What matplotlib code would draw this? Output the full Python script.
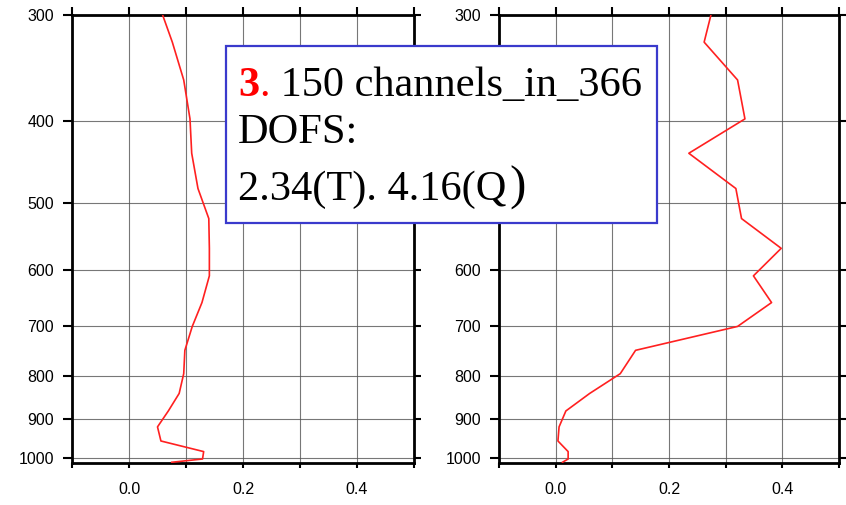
import matplotlib
matplotlib.use("Agg")
import matplotlib.pyplot as plt
from matplotlib.patches import Rectangle
from matplotlib.ticker import FixedLocator, NullFormatter, NullLocator

# ---- data ----
pressure = [300, 323, 358, 398, 437, 481, 522, 566, 610, 656, 700, 747, 796,
            840, 881, 920, 956, 984, 1004, 1013]
t_values = [0.059, 0.076, 0.096, 0.107, 0.110, 0.121, 0.140, 0.141, 0.141, 0.128,
            0.111, 0.098, 0.096, 0.088, 0.069, 0.050, 0.056, 0.131, 0.129, 0.075]
q_values = [0.274, 0.262, 0.321, 0.334, 0.235, 0.318, 0.328, 0.398, 0.349, 0.381,
            0.321, 0.141, 0.114, 0.060, 0.018, 0.006, 0.004, 0.022, 0.022, 0.012]
y_ticks = [300, 400, 500, 600, 700, 800, 900, 1000]
x_ticks = [-0.1, 0.0, 0.1, 0.2, 0.3, 0.4, 0.5]
x_labels = {0.0: "0.0", 0.2: "0.2", 0.4: "0.4"}
title_num = "3"
title_rest = " 150 channels_in_366"
line2 = "DOFS:"
line3 = "2.34(T). 4.16(Q"
line3_end = ")"

W, H = 846, 505
fig = plt.figure(figsize=(W / 100, H / 100), dpi=100)
PX = 72 / 100  # points per pixel

def make_ax(left_px, width_px, values):
    bottom_px = 463
    top_px = 15
    ax = fig.add_axes([left_px / W, (H - bottom_px) / H, width_px / W, (bottom_px - top_px) / H])
    ax.plot(values, pressure, color="#ff2020", lw=1.2, zorder=3)
    ax.set_yscale("log")
    ax.set_ylim(1015, 300)
    ax.set_xlim(-0.1, 0.5)
    ax.yaxis.set_major_locator(FixedLocator(y_ticks))
    ax.yaxis.set_minor_locator(NullLocator())
    ax.set_yticklabels([str(v) for v in y_ticks])
    ax.yaxis.set_minor_formatter(NullFormatter())
    ax.xaxis.set_major_locator(FixedLocator(x_ticks))
    ax.set_xticklabels([x_labels.get(round(v, 1), "") for v in x_ticks])
    ax.grid(True, color="#555555", lw=0.8, alpha=0.8)
    for s in ax.spines.values():
        s.set_linewidth(2.0)
        s.set_color("black")
    ax.tick_params(axis="y", which="major", direction="out", length=9 * PX, width=1.5,
                   right=True, labelsize=11.5, pad=9 * PX)
    ax.tick_params(axis="x", which="major", direction="out", length=5 * PX, width=1.5,
                   top=True, labelsize=11.5, pad=14 * PX)
    for lab in ax.get_xticklabels() + ax.get_yticklabels():
        lab.set_fontfamily("Liberation Sans")
    for tk in ax.xaxis.get_major_ticks():
        tk.tick2line.set_markersize(8 * PX)
    for tk in ax.yaxis.get_major_ticks():
        tk.tick2line.set_markersize(7 * PX)
    return ax

ax1 = make_ax(72, 342, t_values)
ax2 = make_ax(499, 340, q_values)

# text box
box_l, box_r, box_t, box_b = 226, 657, 46, 223
box = Rectangle((box_l / W, 1 - box_b / H), (box_r - box_l) / W, (box_b - box_t) / H,
                transform=fig.transFigure, facecolor="white", edgecolor="#3a3acc",
                lw=1.6, zorder=10)
fig.patches.append(box)

fig.canvas.draw()
r = fig.canvas.get_renderer()
# tick labels that sit fully under the box are hidden in the reference
for lab in ax2.get_yticklabels():
    e = lab.get_window_extent(r)
    top_px, bot_px = H - e.y1, H - e.y0
    if e.x0 >= box_l and e.x1 <= box_r and top_px >= box_t and bot_px <= box_b:
        lab.set_visible(False)

serif = ["Liberation Serif", "DejaVu Serif"]
fs = 30.5
x0 = 238 / W
t1 = fig.text(x0, 1 - 96 / H, title_num, color="red", fontweight="bold",
              family=serif, fontsize=fs, zorder=11, va="baseline")
fig.canvas.draw()
bb = t1.get_window_extent(r)
t2 = fig.text(bb.x1 / W, 1 - 96 / H, ".", color="red", family=serif, fontsize=fs,
              zorder=11, va="baseline")
bb2 = t2.get_window_extent(r)
fig.text(bb2.x1 / W, 1 - 96 / H, title_rest, color="black", family=serif, fontsize=fs,
         zorder=11, va="baseline")
fig.text(x0, 1 - 143 / H, line2, color="black", family=serif, fontsize=fs,
         zorder=11, va="baseline")
t3 = fig.text(x0, 1 - 200 / H, line3, color="black", family=serif, fontsize=fs,
              zorder=11, va="baseline")
fig.canvas.draw()
bb3 = t3.get_window_extent(r)
fig.text((bb3.x1 + 3) / W, 1 - 200 / H, line3_end, color="black", family=serif,
         fontsize=fs + 5, zorder=11, va="baseline")

fig.savefig("out.png", dpi=100)
